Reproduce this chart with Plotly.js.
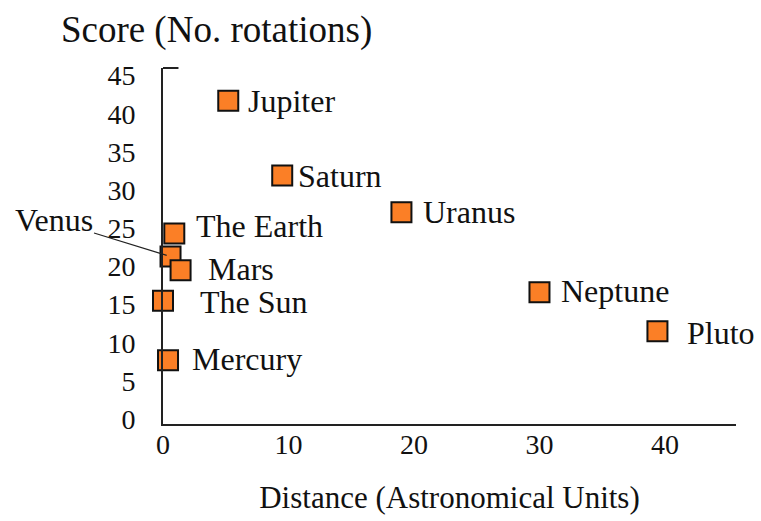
<!DOCTYPE html>
<html>
<head>
<meta charset="utf-8">
<script src="https://cdn.plot.ly/plotly-3.0.1.min.js"></script>
<style>html,body{margin:0;padding:0;background:#fff;}#chart{width:761px;height:521px;}</style>
</head>
<body>
<div id="chart"></div>
<script>
// Data
const bodies = ["The Sun", "Mercury", "Venus", "The Earth", "Mars", "Jupiter", "Saturn", "Uranus", "Neptune", "Pluto"];
const distanceAU = [0, 0.4, 0.6, 0.9, 1.4, 5.2, 9.5, 19.0, 30.0, 39.4];
const scoreRotations = [15.5, 7.7, 21.3, 24.3, 19.5, 41.7, 31.9, 27.1, 16.6, 11.5];
const xTicks = [0, 10, 20, 30, 40];
const yTicks = [0, 5, 10, 15, 20, 25, 30, 35, 40, 45];

// Styling: label pixel offsets from the marker centre (x right, y up)
const labelDX = [35, 22, 0, 20, 25, 18, 14, 20, 20, 28];
const labelDY = [-1, 1, 0, 8, 1, 0, 0, 0, 1, -2];

const FONT = "Liberation Serif, Times New Roman, serif";
const ORANGE = "#FB7F26";
const INK = "#111";

const venusIdx = bodies.indexOf("Venus");

const trace = {
  type: "scatter",
  mode: "markers",
  x: distanceAU,
  y: scoreRotations,
  text: bodies,
  cliponaxis: false,
  marker: {symbol: "square", size: 20, color: ORANGE, line: {color: INK, width: 2}},
  hoverinfo: "x+y+text"
};

const annotations = bodies.map((b, i) => {
  if (i === venusIdx) {
    return {
      x: distanceAU[i], y: scoreRotations[i], xref: "x", yref: "y",
      text: b, font: {family: FONT, size: 32, color: INK},
      showarrow: true, arrowhead: 0, arrowwidth: 1.2, arrowcolor: "#222",
      ax: -117, ay: -36, standoff: 4
    };
  }
  return {
    x: distanceAU[i], y: scoreRotations[i], xref: "x", yref: "y",
    text: b, font: {family: FONT, size: 32, color: INK},
    showarrow: false, xanchor: "left", yanchor: "middle",
    xshift: labelDX[i], yshift: labelDY[i]
  };
});

const layout = {
  width: 761, height: 521,
  margin: {l: 163, r: 25, t: 68, b: 97},
  paper_bgcolor: "#fff", plot_bgcolor: "#fff",
  showlegend: false,
  font: {family: FONT, color: INK},
  title: {
    text: "Score (No. rotations)",
    font: {family: FONT, size: 37, color: INK},
    xref: "container", yref: "container",
    x: 0.08, xanchor: "left",
    y: 0.945, yanchor: "middle"
  },
  xaxis: {
    range: [0, 45.66],
    tickvals: xTicks,
    ticktext: xTicks.map(String),
    showgrid: false, zeroline: false,
    showline: true, linecolor: "#222", linewidth: 2,
    ticks: "",
    ticklabelstandoff: -6,
    tickfont: {family: FONT, size: 28, color: INK},
    title: {text: "Distance (Astronomical Units)", font: {family: FONT, size: 31, color: INK}, standoff: 28}
  },
  yaxis: {
    range: [-0.65, 46],
    tickvals: yTicks,
    ticktext: yTicks.map(String),
    showgrid: false, zeroline: false,
    showline: true, linecolor: "#222", linewidth: 2,
    ticks: "outside", ticklen: 20, tickcolor: "rgba(0,0,0,0)",
    tickfont: {family: FONT, size: 28, color: INK}
  },
  shapes: [
    {type: "line", xref: "paper", yref: "paper", x0: 0, x1: 0.027, y0: 1, y1: 1,
     line: {color: "#222", width: 2}}
  ],
  annotations: annotations
};

Plotly.newPlot("chart", [trace], layout, {displayModeBar: false, staticPlot: true});
</script>
</body>
</html>
